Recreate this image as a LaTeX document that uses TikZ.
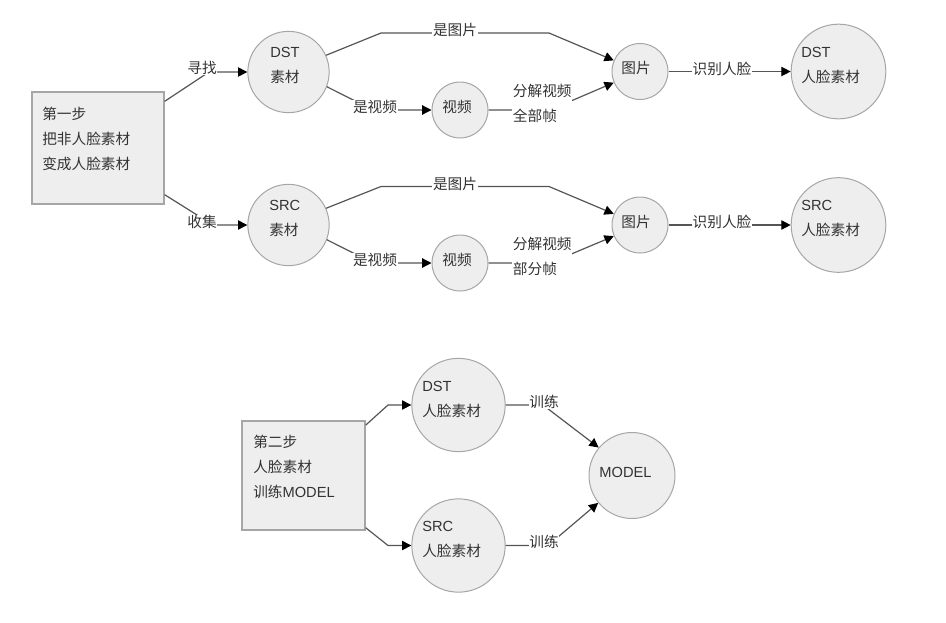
\documentclass[tikz,border=0pt]{standalone}
\usepackage{fontspec}
\setmainfont{Liberation Sans}
\newfontfamily\cjk{Noto Sans CJK SC}
\usetikzlibrary{arrows.meta}
\definecolor{nodefill}{HTML}{EEEEEE}
\definecolor{nodeline}{HTML}{A6A6A6}
\definecolor{edgecol}{HTML}{555555}
\definecolor{txtcol}{HTML}{333333}
\begin{document}
\begin{tikzpicture}[x=0.75pt,y=-0.75pt,
  every node/.style={text=txtcol, font=\fontsize{11}{18.75}\selectfont},
  circ/.style={circle, draw=nodeline, fill=nodefill, line width=0.75pt, inner sep=0pt, minimum size=#1},
  boxnode/.style={rectangle, draw=nodeline, fill=nodefill, line width=1pt, inner sep=0pt},
  txt/.style={inner sep=0pt, align=left, anchor=west},
  ctxt/.style={inner sep=0pt, align=center},
  lbl/.style={fill=white, inner sep=0.5pt, align=left},
  edge/.style={draw=edgecol, line width=0.9pt, -{Triangle[length=7pt,width=7pt,color=black]}},
]
\useasboundingbox (0,0) rectangle (946,622);

% ---------- step 1 ----------
\node[boxnode, minimum width=99pt, minimum height=84pt] (box1) at (98,148) {};
\node[txt] (box1t) at (42,139) {{\cjk 第一步}\\{\cjk 把非人脸素材}\\{\cjk 变成人脸素材}};

\node[circ=61pt] (dsts) at (288.5,72) {};
\node[txt] (dstst) at (270,65) {DST\\{\cjk 素材}};
\node[circ=61pt] (srcs) at (288.5,225) {};
\node[txt] (srcst) at (269,218.5) {SRC\\{\cjk 素材}};

\node[circ=42pt] (v1) at (460,110) {};
\node[ctxt] (v1t) at (457,107) {\cjk 视频};
\node[circ=42pt] (v2) at (460,263) {};
\node[ctxt] (v2t) at (457,260) {\cjk 视频};

\node[circ=42pt] (p1) at (640,71.5) {};
\node[ctxt] (p1t) at (636,68) {\cjk 图片};
\node[circ=42pt] (p2) at (640,225) {};
\node[ctxt] (p2t) at (636,221.5) {\cjk 图片};

\node[circ=71pt] (df) at (838.5,71.5) {};
\node[txt] (dft) at (801,65) {DST\\{\cjk 人脸素材}};
\node[circ=71pt] (sf) at (838.5,225) {};
\node[txt] (sft) at (801,218.5) {SRC\\{\cjk 人脸素材}};

% edges step 1
\coordinate (b1) at (209,72);
\coordinate (b2) at (213,225);
\draw[edge] (box1.35.5) -- (b1) -- (dsts.west);
\draw[edge] (box1.-35) -- (b2) -- (srcs.west);
\node[lbl] (l1) at (202,68) {\cjk 寻找};
\node[lbl] (l2) at (202,222) {\cjk 收集};

\coordinate (a1) at (381,33);
\coordinate (a2) at (549,33);
\draw[edge] (dsts.24) -- (a1) -- (a2) -- (p1.157);
\node[lbl] (l3) at (455,30) {\cjk 是图片};
\coordinate (a3) at (381,186.5);
\coordinate (a4) at (549,186.5);
\draw[edge] (srcs.24) -- (a3) -- (a4) -- (p2.157);
\node[lbl] (l4) at (455,183.5) {\cjk 是图片};

\coordinate (c1) at (373,110);
\draw[edge] (dsts.-21) -- (c1) -- (v1.west);
\node[lbl] (l5) at (375,107) {\cjk 是视频};
\coordinate (c2) at (373,263);
\draw[edge] (srcs.-21) -- (c2) -- (v2.west);
\node[lbl] (l6) at (375,260) {\cjk 是视频};

\coordinate (d1) at (550,110);
\draw[edge] (v1.east) -- (d1) -- (p1.203);
\node[lbl, anchor=west] (l7) at (512,103.5) {{\cjk 分解视频}\\{\cjk 全部帧}};
\coordinate (d2) at (550,263);
\draw[edge] (v2.east) -- (d2) -- (p2.203);
\node[lbl, anchor=west] (l8) at (512,256.5) {{\cjk 分解视频}\\{\cjk 部分帧}};

\draw[edge] (p1.east) -- (df.west);
\node[lbl] (l9) at (722,68.5) {\cjk 识别人脸};
\draw[edge] (p2.east) -- (sf.west);
\node[lbl] (l10) at (722,222) {\cjk 识别人脸};

% ---------- step 2 ----------
\node[boxnode, minimum width=92.25pt, minimum height=81.75pt] (box2) at (303.5,475.5) {};
\node[txt] (box2t) at (253,466.5) {{\cjk 第二步}\\{\cjk 人脸素材}\\{\cjk 训练}MODEL};

\node[circ=70pt] (dm) at (458.5,405) {};
\node[txt] (dmt) at (422,399.5) {DST\\{\cjk 人脸素材}};
\node[circ=70pt] (sm) at (458.5,545.5) {};
\node[txt] (smt) at (422,539.5) {SRC\\{\cjk 人脸素材}};
\node[circ=64.5pt] (model) at (632,475.5) {};
\node[ctxt] (modelt) at (625.5,472) {MODEL};

\coordinate (e1) at (388,405);
\coordinate (e2) at (388,545.5);
\draw[edge] (box2.39.4) -- (e1) -- (dm.west);
\draw[edge] (box2.-40) -- (e2) -- (sm.west);

\coordinate (f1) at (543,405);
\coordinate (f2) at (548,545.5);
\draw[edge] (dm.east) -- (f1) -- (model.140);
\draw[edge] (sm.east) -- (f2) -- (model.-141);
\node[lbl] (l11) at (544,402) {\cjk 训练};
\node[lbl] (l12) at (544,542) {\cjk 训练};
\end{tikzpicture}
\end{document}
